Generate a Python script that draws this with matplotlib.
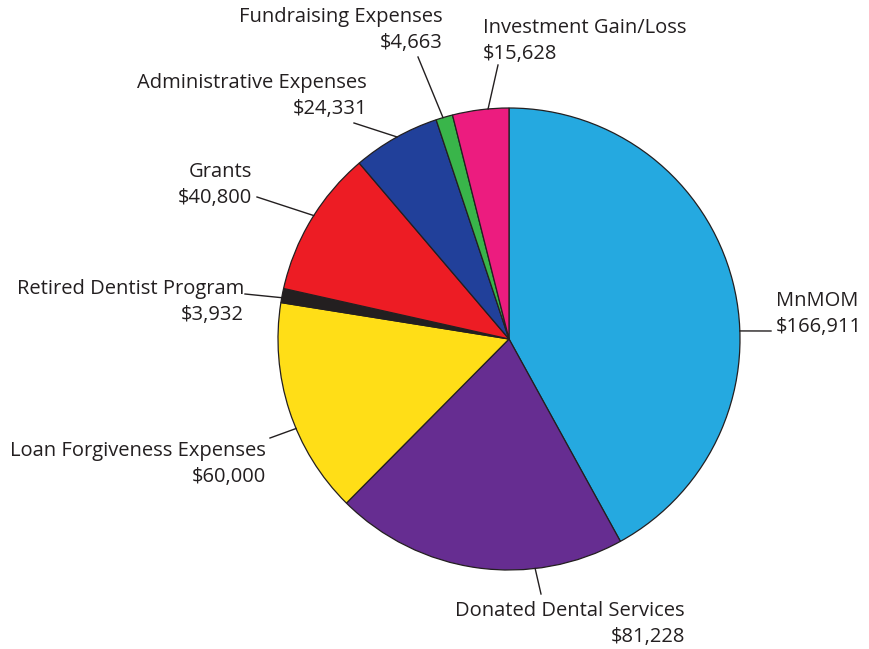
import numpy as np
import matplotlib.pyplot as plt

labels = ["MnMOM", "Donated Dental Services", "Loan Forgiveness Expenses",
          "Retired Dentist Program", "Grants", "Administrative Expenses",
          "Fundraising Expenses", "Investment Gain/Loss"]
values = [166911, 81228, 60000, 3932, 40800, 24331, 4663, 15628]
colors = ["#25A9E0", "#662D91", "#FFDE17", "#231F20", "#ED1C24",
          "#21409A", "#39B54A", "#EC1C7F"]

W, H = 870, 649
CX, CY, R = 509, 339, 231   # pie centre / radius in pixels (top-left origin)

# label layout: text anchor (px), alignment, leader line outer end (px), angle where line meets pie
layout = {
    "MnMOM":                     ((776, 314), "left",  (771, 331), 2.0),
    "Donated Dental Services":   ((685, 624), "right", (541, 594), 276.5),
    "Loan Forgiveness Expenses": ((266, 464), "right", (270, 438), 202.8),
    "Retired Dentist Program":   ((244, 302), "right", (245, 294), 169.7),
    "Grants":                    ((252, 185), "right", (257, 197), 147.7),
    "Administrative Expenses":   ((367, 96),  "right", (354, 123), 119.0),
    "Fundraising Expenses":      ((443, 30),  "right", (418, 57),  106.6),
    "Investment Gain/Loss":      ((483, 41),  "left",  (498, 65),  95.2),
}

plt.rcParams['font.family'] = ['Open Sans', 'DejaVu Sans']

fig = plt.figure(figsize=(W / 100, H / 100), dpi=100)
ax = fig.add_axes([0, 0, 1, 1])

def fy(y):
    return H - y

ax.pie(values, colors=colors, startangle=90, counterclock=False,
       center=(CX, fy(CY)), radius=R, frame=True,
       wedgeprops=dict(edgecolor="#231F20", linewidth=0.9))

for lab, val in zip(labels, values):
    (tx, ty), ha, (ox, oy), ang = layout[lab]
    a = np.deg2rad(ang)
    ix, iy = CX + R * np.cos(a), fy(CY) + R * np.sin(a)
    ax.plot([ix, ox], [iy, fy(oy)], color="#231F20", linewidth=1.0)
    ax.text(tx, fy(ty), f"{lab}\n${val:,}", ha=ha, va="center",
            multialignment=ha, fontsize=14.5, color="#231F20", linespacing=1.38)

ax.set_xlim(0, W)
ax.set_ylim(0, H)
ax.set_aspect('equal')
ax.axis('off')

fig.savefig("out.png", dpi=100)
